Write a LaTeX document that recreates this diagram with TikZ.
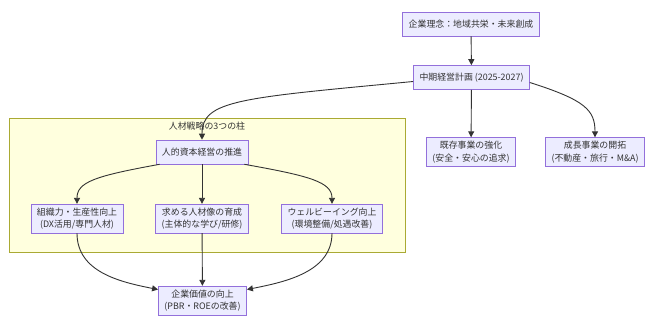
\documentclass[tikz,border=0pt]{standalone}
\usepackage{fontspec}
\setmainfont{Noto Sans CJK JP}
\usepackage{xcolor}
\usetikzlibrary{arrows.meta,positioning,calc}
\definecolor{boxfill}{HTML}{ECECFF}
\definecolor{boxline}{HTML}{9370DB}
\definecolor{grpfill}{HTML}{FFFFDE}
\definecolor{grpline}{HTML}{AAAA33}
\definecolor{ink}{HTML}{333333}
\begin{document}
\begin{tikzpicture}[x=1pt,y=-1pt,
  bx/.style={draw=boxline,fill=boxfill,line width=0.6pt,text=ink,font=\fontsize{8.9}{12.5}\selectfont,
    align=center,inner xsep=6pt,inner ysep=3.5pt,minimum height=24pt},
  grp/.style={draw=grpline,fill=grpfill,line width=0.6pt},
  ar/.style={draw=ink,line width=0.9pt,-{Triangle[length=6pt,width=6pt]}},
  lb/.style={text=ink,font=\fontsize{8.9}{10}\selectfont}
]
\useasboundingbox (0,0) rectangle (652,327);
% ---- subgraph frame ----
\draw[grp] (9,118) rectangle (405,252);
\node[lb] (grptitle) at (207,126) {人材戦略の3つの柱};
% ---- top: philosophy and plan ----
\node[bx] (vision) at (471,24)   {企業理念：地域共栄・未来創成};
\node[bx] (plan)   at (471.5,77.5) {中期経営計画 (2025-2027)};
% ---- right branch ----
\node[bx] (core)   at (471,152)  {既存事業の強化\\(安全・安心の追求)};
\node[bx] (growth) at (595,152)  {成長事業の開拓\\(不動産・旅行・M\&A)};
% ---- human capital pillars ----
\node[bx] (hr)     at (202,152)  {人的資本経営の推進};
\node[bx] (org)    at (77,218.5) {組織力・生産性向上\\(DX活用/専門人材)};
\node[bx] (talent) at (202,218.5) {求める人材像の育成\\(主体的な学び/研修)};
\node[bx] (well)   at (332,218.5) {ウェルビーイング向上\\(環境整備/処遇改善)};
% ---- outcome ----
\node[bx] (value)  at (202.5,300.5) {企業価値の向上\\(PBR・ROEの改善)};
% ---- connectors ----
\draw[ar] (vision) -- (plan);
\draw[ar] (plan.west) ++(0,4) .. controls (240,98) and (202,100) .. (hr.north);
\draw[ar] (plan) -- (core);
\draw[ar] (plan.east) ++(0,5) .. controls (585,100) and (595,110) .. (growth.north);
\draw[ar] (hr.south west) ++(4,0) .. controls (95,176) and (77,182) .. (org.north);
\draw[ar] (hr) -- (talent);
\draw[ar] (hr.south east) ++(-4,0) .. controls (310,176) and (332,182) .. (well.north);
\draw[ar] (org.south) .. controls (77,272) and (120,282) .. ($(value.west)+(0,-11)$);
\draw[ar] (talent) -- (value);
\draw[ar] (well.south) .. controls (332,272) and (285,282) .. ($(value.east)+(0,-11)$);
\end{tikzpicture}
\end{document}
